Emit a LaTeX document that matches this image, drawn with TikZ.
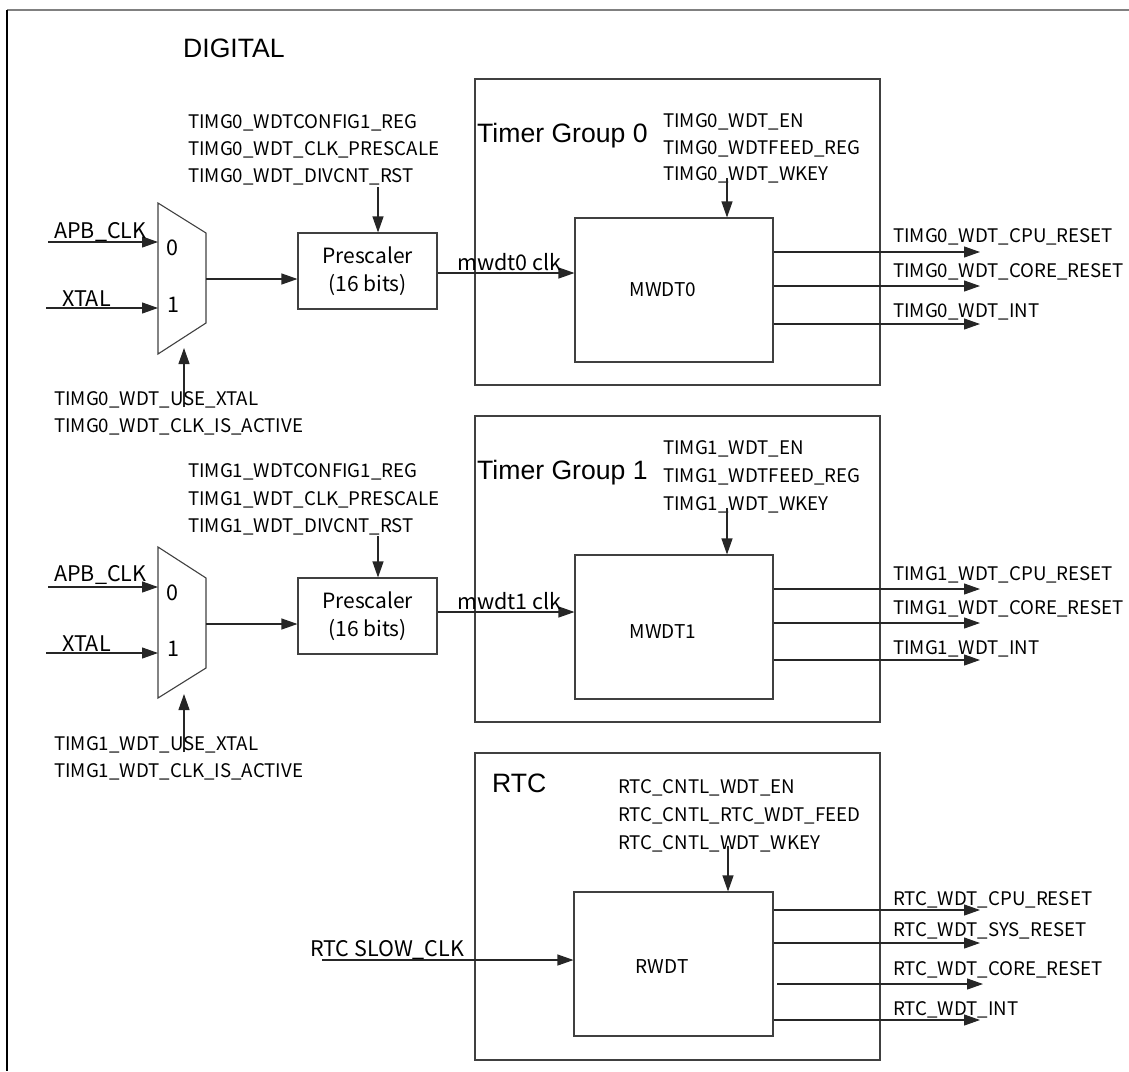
\documentclass[tikz,border=0pt]{standalone}
\usepackage{fontspec}
\setmainfont{Noto Sans CJK SC}
\newfontfamily\arialf{Liberation Sans}
\usetikzlibrary{arrows.meta}
\begin{document}
\begin{tikzpicture}[x=1pt,y=-1pt,
  lbl/.style={font=\fontsize{18.7}{22}\selectfont, inner sep=0pt, anchor=base west},
  biglbl/.style={font=\fontsize{21.5}{25}\selectfont, inner sep=0pt, anchor=base west},
  midlbl/.style={font=\fontsize{19}{22}\selectfont, inner sep=0pt, anchor=center},
  title/.style={font=\arialf\fontsize{26.6}{30}\selectfont, inner sep=0pt, anchor=base west},
  boxline/.style={draw=black!75, line width=1.1pt},
  box/.style={boxline, inner sep=0pt, fill=none},
  arr/.style={draw=black!85, line width=1.1pt, -{Triangle[length=16pt,width=11pt]}},
  wire/.style={draw=black!85, line width=1.1pt}]
\useasboundingbox (0,0) rectangle (1129,1071);
% outer frame
\draw[draw=black!50, line width=1.3pt] (1129,10) -- (7,10);
\draw[draw=black, line width=1.3pt] (7,10) -- (7,1071);
\node[title] (digital) at (183,57) {DIGITAL};

% ================= Group 0 =================
\node[box, minimum width=405pt, minimum height=306pt] (tg0) at (677.5,232) {};
\node[title] (tg0t) at (477,142) {Timer Group 0};
\node[lbl] (g0en) at (663,127) {TIMG0\_WDT\_EN};
\node[lbl] (g0feed) at (663,154) {TIMG0\_WDTFEED\_REG};
\node[lbl] (g0wkey) at (663,180) {TIMG0\_WDT\_WKEY};
\node[box, minimum width=198pt, minimum height=144pt] (mwdt0) at (674,290) {};
\node[midlbl] (mwdt0t) at (663,290) {MWDT0};
\coordinate (g0wtop) at (727,178);
\draw[arr] (g0wtop) -- (g0wtop |- mwdt0.north);

\node[box, minimum width=139pt, minimum height=76pt, align=center,
  font=\fontsize{21}{28}\selectfont] (pre0) at (367.5,271) {Prescaler\\(16 bits)};
\node[lbl] (g0cfg) at (188,128) {TIMG0\_WDTCONFIG1\_REG};
\node[lbl] (g0pre) at (188,155) {TIMG0\_WDT\_CLK\_PRESCALE};
\node[lbl] (g0div) at (188,182) {TIMG0\_WDT\_DIVCNT\_RST};
\coordinate (g0ptop) at (378,187);
\draw[arr] (g0ptop) -- (g0ptop |- pre0.north);

\coordinate (m0a) at (158,203);
\coordinate (m0b) at (206,233);
\coordinate (m0c) at (206,323);
\coordinate (m0d) at (158,354);
\draw[boxline] (m0a) -- (m0b) -- (m0c) -- (m0d) -- cycle;
\node[biglbl] (m0zero) at (166,255) {0};
\node[biglbl] (m0one) at (167,312) {1};
\coordinate (m0out) at (206,279);
\draw[arr] (m0out) -- (pre0.west |- m0out);
\coordinate (apb0) at (48,242);
\draw[arr] (apb0) -- (apb0 -| m0a);
\node[biglbl] (apb0t) at (54,238) {APB\_CLK};
\coordinate (xtal0) at (46,308);
\draw[arr] (xtal0) -- (xtal0 -| m0a);
\node[biglbl] (xtal0t) at (62,306) {XTAL};
\coordinate (sel0) at (184,407);
\coordinate (sel0e) at (184,348);
\draw[arr] (sel0) -- (sel0e);
\node[lbl] (g0use) at (54,405) {TIMG0\_WDT\_USE\_XTAL};
\node[lbl] (g0act) at (54,432) {TIMG0\_WDT\_CLK\_IS\_ACTIVE};

\coordinate (clk0) at (pre0.east |- 0,273);
\draw[arr] (clk0) -- (clk0 -| mwdt0.west);
\node[biglbl] (clk0t) at (457,270) {mwdt0 clk};

\coordinate (o0a) at (980,252);
\coordinate (o0b) at (980,286);
\coordinate (o0c) at (980,324);
\draw[arr] (o0a -| mwdt0.east) -- (o0a);
\draw[arr] (o0b -| mwdt0.east) -- (o0b);
\draw[arr] (o0c -| mwdt0.east) -- (o0c);
\node[lbl] (o0at) at (893,242) {TIMG0\_WDT\_CPU\_RESET};
\node[lbl] (o0bt) at (893,277) {TIMG0\_WDT\_CORE\_RESET};
\node[lbl] (o0ct) at (893,317) {TIMG0\_WDT\_INT};

% ================= Group 1 =================
\node[box, minimum width=405pt, minimum height=306pt] (tg1) at (677.5,569) {};
\node[title] (tg1t) at (477,479) {Timer Group 1};
\node[lbl] (g1en) at (663,454) {TIMG1\_WDT\_EN};
\node[lbl] (g1feed) at (663,482) {TIMG1\_WDTFEED\_REG};
\node[lbl] (g1wkey) at (663,510) {TIMG1\_WDT\_WKEY};
\node[box, minimum width=198pt, minimum height=144pt] (mwdt1) at (674,627) {};
\node[midlbl] (mwdt1t) at (663,632) {MWDT1};
\coordinate (g1wtop) at (727,508);
\draw[arr] (g1wtop) -- (g1wtop |- mwdt1.north);

\node[box, minimum width=139pt, minimum height=76pt, align=center,
  font=\fontsize{21}{28}\selectfont] (pre1) at (367.5,616) {Prescaler\\(16 bits)};
\node[lbl] (g1cfg) at (188,477) {TIMG1\_WDTCONFIG1\_REG};
\node[lbl] (g1pre) at (188,505) {TIMG1\_WDT\_CLK\_PRESCALE};
\node[lbl] (g1div) at (188,532) {TIMG1\_WDT\_DIVCNT\_RST};
\coordinate (g1ptop) at (378,536);
\draw[arr] (g1ptop) -- (g1ptop |- pre1.north);

\coordinate (m1a) at (158,547);
\coordinate (m1b) at (206,578);
\coordinate (m1c) at (206,668);
\coordinate (m1d) at (158,698);
\draw[boxline] (m1a) -- (m1b) -- (m1c) -- (m1d) -- cycle;
\node[biglbl] (m1zero) at (166,600) {0};
\node[biglbl] (m1one) at (167,656) {1};
\coordinate (m1out) at (206,624);
\draw[arr] (m1out) -- (pre1.west |- m1out);
\coordinate (apb1) at (48,587);
\draw[arr] (apb1) -- (apb1 -| m1a);
\node[biglbl] (apb1t) at (54,581) {APB\_CLK};
\coordinate (xtal1) at (46,653);
\draw[arr] (xtal1) -- (xtal1 -| m1a);
\node[biglbl] (xtal1t) at (62,651) {XTAL};
\coordinate (sel1) at (184,752);
\coordinate (sel1e) at (184,694);
\draw[arr] (sel1) -- (sel1e);
\node[lbl] (g1use) at (54,750) {TIMG1\_WDT\_USE\_XTAL};
\node[lbl] (g1act) at (54,777) {TIMG1\_WDT\_CLK\_IS\_ACTIVE};

\coordinate (clk1) at (pre1.east |- 0,612);
\draw[arr] (clk1) -- (clk1 -| mwdt1.west);
\node[biglbl] (clk1t) at (457,609) {mwdt1 clk};

\coordinate (o1a) at (980,589);
\coordinate (o1b) at (980,623);
\coordinate (o1c) at (980,660);
\draw[arr] (o1a -| mwdt1.east) -- (o1a);
\draw[arr] (o1b -| mwdt1.east) -- (o1b);
\draw[arr] (o1c -| mwdt1.east) -- (o1c);
\node[lbl] (o1at) at (893,580) {TIMG1\_WDT\_CPU\_RESET};
\node[lbl] (o1bt) at (893,614) {TIMG1\_WDT\_CORE\_RESET};
\node[lbl] (o1ct) at (893,654) {TIMG1\_WDT\_INT};

% ================= RTC =================
\node[box, minimum width=405pt, minimum height=307pt] (rtc) at (677.5,906.5) {};
\node[title] (rtct) at (492,792) {RTC};
\node[lbl] (ren) at (618,793) {RTC\_CNTL\_WDT\_EN};
\node[lbl] (rfeed) at (618,821) {RTC\_CNTL\_RTC\_WDT\_FEED};
\node[lbl] (rwkey) at (618,849) {RTC\_CNTL\_WDT\_WKEY};
\node[box, minimum width=199pt, minimum height=144pt] (rwdt) at (673.5,964) {};
\node[midlbl] (rwdtt) at (662,967) {RWDT};
\coordinate (rwtop) at (728,846);
\draw[arr] (rwtop) -- (rwtop |- rwdt.north);

\coordinate (slow) at (322,960);
\draw[arr] (slow) -- (slow -| rwdt.west);
\node[biglbl] (slowt) at (310,956) {RTC SLOW\_CLK};

\coordinate (ora) at (980,910);
\coordinate (orb) at (980,943);
\coordinate (orc0) at (777,984);
\coordinate (orc) at (983,984);
\coordinate (ord) at (980,1020);
\draw[arr] (ora -| rwdt.east) -- (ora);
\draw[arr] (orb -| rwdt.east) -- (orb);
\draw[arr] (orc0) -- (orc);
\draw[arr] (ord -| rwdt.east) -- (ord);
\node[lbl] (orat) at (893,905) {RTC\_WDT\_CPU\_RESET};
\node[lbl] (orbt) at (893,936) {RTC\_WDT\_SYS\_RESET};
\node[lbl] (orct) at (893,975) {RTC\_WDT\_CORE\_RESET};
\node[lbl] (ordt) at (893,1015) {RTC\_WDT\_INT};
\end{tikzpicture}
\end{document}
